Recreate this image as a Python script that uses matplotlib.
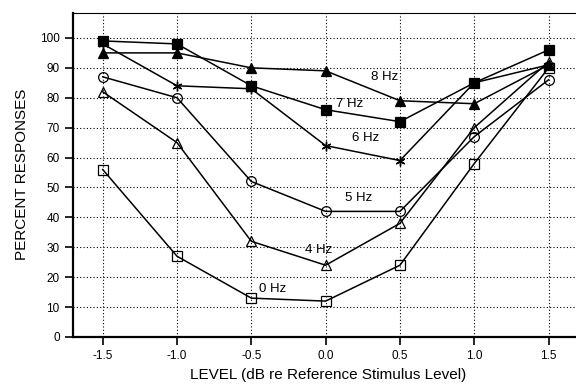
import matplotlib
matplotlib.use("Agg")
import matplotlib.pyplot as plt

plt.rcParams["font.family"] = ["Liberation Sans", "DejaVu Sans"]

levels = [-1.5, -1.0, -0.5, 0.0, 0.5, 1.0, 1.5]

hz0 = [56, 27, 13, 12, 24, 58, 90]
hz4 = [82, 65, 32, 24, 38, 70, 92]
hz5 = [87, 80, 52, 42, 42, 67, 86]
hz6 = [98, 84, 83, 64, 59, 85, 91]
hz7 = [99, 98, 84, 76, 72, 85, 96]
hz8 = [95, 95, 90, 89, 79, 78, 91]

labels = ["0 Hz", "4 Hz", "5 Hz", "6 Hz", "7 Hz", "8 Hz"]
label_pos = [(-0.36, 16), (-0.05, 29), (0.22, 46.5), (0.27, 66.5), (0.16, 78), (0.40, 87)]

series = [
    (hz0, "s", "none"),
    (hz4, "^", "none"),
    (hz5, "o", "none"),
    (hz6, "+", "k"),
    (hz7, "s", "k"),
    (hz8, "^", "k"),
]

fig = plt.figure(figsize=(5.76, 3.9), dpi=100)
ax = fig.add_axes([0.1267, 0.1359, 0.885, 0.832])

for vals, mk, fc in series:
    if mk == "+":
        # asterisk-like marker for 6 Hz
        ax.plot(levels, vals, color="k", lw=1.1, marker=(6, 2, 0), ms=7, mew=1.0)
    else:
        ax.plot(levels, vals, color="k", lw=1.1, marker=mk, ms=7,
                mfc=fc, mec="k", mew=0.9)

for txt, (x, y) in zip(labels, label_pos):
    ax.text(x, y, txt, fontsize=9.5, ha="center", va="center")

ax.set_xlim(-1.7, 1.73)
ax.set_ylim(0, 108.5)
ax.set_xticks(levels)
ax.set_xticklabels(["-1.5", "-1.0", "-0.5", "0.0", "0.5", "1.0", "1.5"])
ax.set_yticks(range(0, 101, 10))
ax.grid(True, color="k", linestyle=(0, (1, 2)), linewidth=0.8)
ax.tick_params(direction="out", length=6, width=1.2, labelsize=8.5)
ax.spines["left"].set_linewidth(1.6)
ax.spines["bottom"].set_linewidth(1.6)
ax.spines["top"].set_linewidth(0.8)
ax.spines["right"].set_linewidth(0.8)

ax.set_xlabel("LEVEL (dB re Reference Stimulus Level)", fontsize=11, labelpad=4)
ax.set_ylabel("PERCENT RESPONSES", fontsize=11, labelpad=8)

fig.savefig("out.png", dpi=100)
